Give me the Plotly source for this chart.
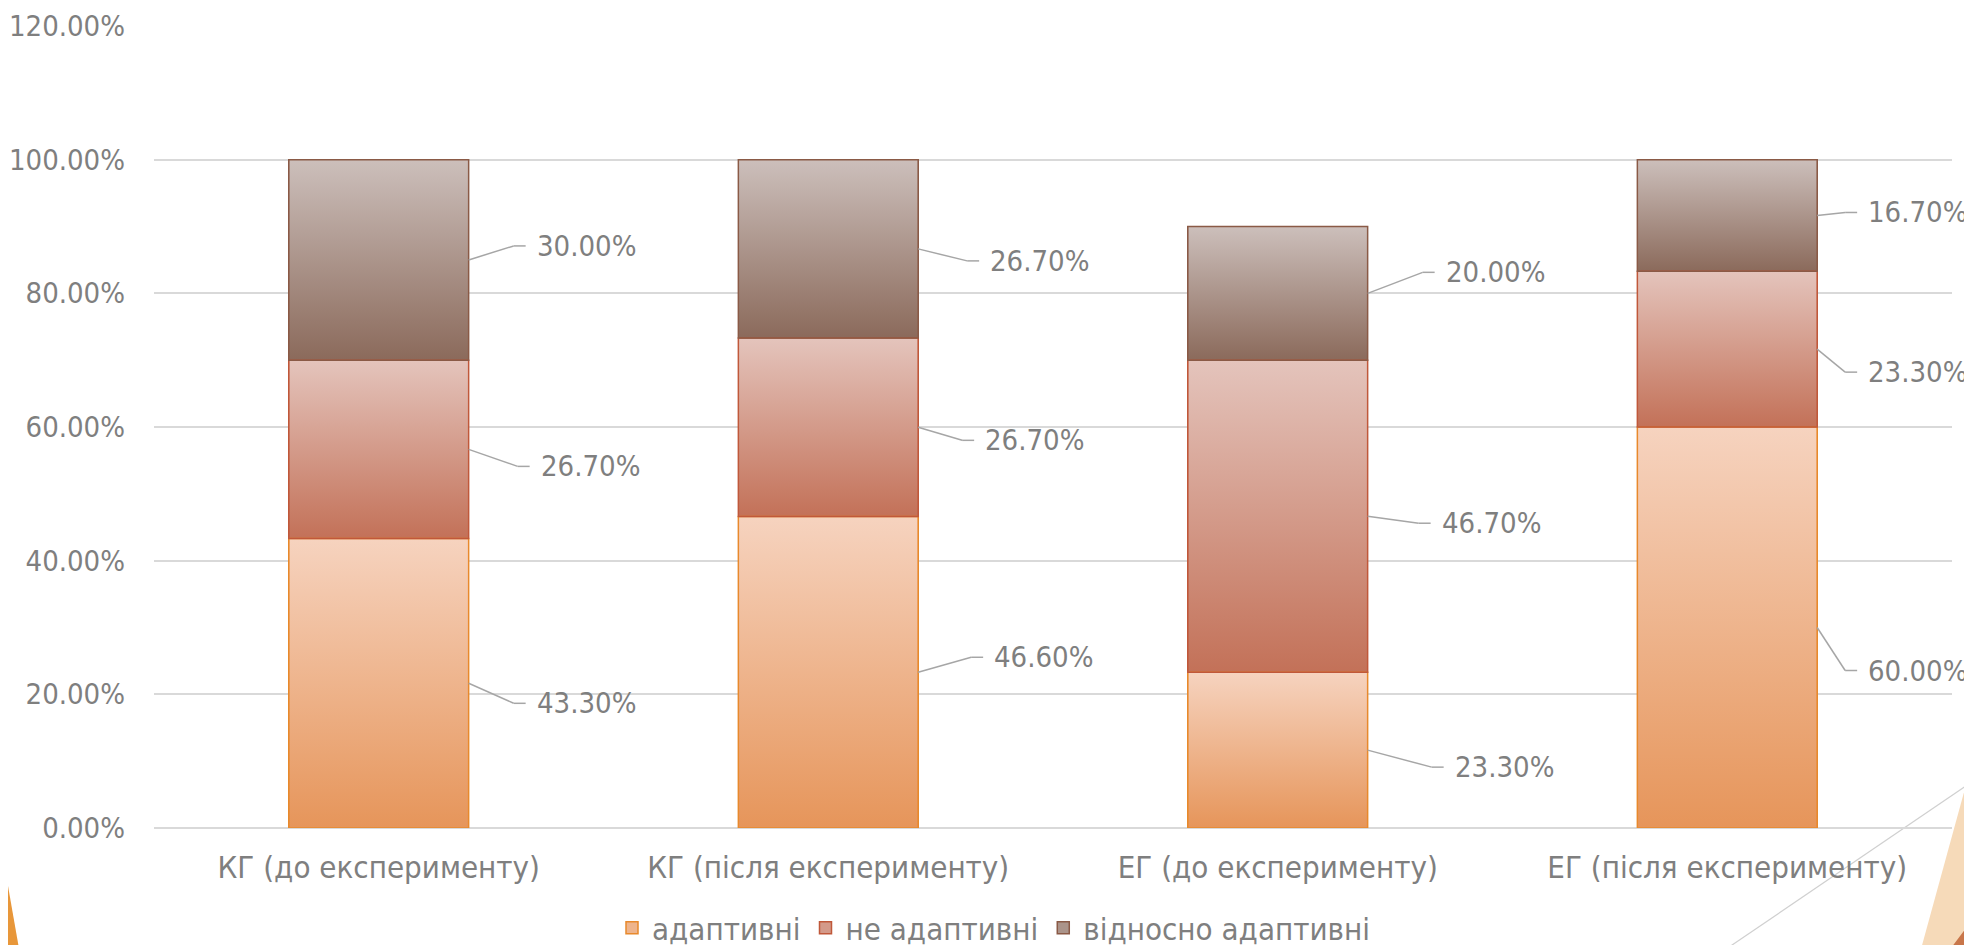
import base64
import plotly.graph_objects as go

# ---------------- data ----------------
categories = ["КГ (до експерименту)", "КГ (після експерименту)",
              "ЕГ (до експерименту)", "ЕГ (після експерименту)"]
series_names = ["адаптивні", "не адаптивні", "відносно адаптивні"]
adaptive = [0.433, 0.466, 0.233, 0.600]
non_adaptive = [0.267, 0.267, 0.467, 0.233]
relatively_adaptive = [0.300, 0.267, 0.200, 0.167]
y_tick_values = [0.0, 0.2, 0.4, 0.6, 0.8, 1.0, 1.2]
y_tick_labels = ["0.00%", "20.00%", "40.00%", "60.00%", "80.00%", "100.00%", "120.00%"]

series_values = [adaptive, non_adaptive, relatively_adaptive]

# ---------------- style ----------------
W, H = 1972, 945
PAGE_OFF = 8                       # default page body margin
# plot area wanted on the page: x 154..1952, y 26..828
ML = 154 - PAGE_OFF
MT = 26 - PAGE_OFF
MR = W - (1952 - PAGE_OFF)
MB = H - (828 - PAGE_OFF)
PW, PH = W - ML - MR, H - MT - MB
Y_MAX = 1.2
XPX = PW / len(categories)      # px per category unit
YPX = PH / Y_MAX                # px per data unit
BAR_W = 0.4

FONT = "DejaVu Sans Condensed, Liberation Sans Narrow, sans-serif"
NUM_SIZE = 29
TXT_SIZE = 31
TEXT_COLOR = "#7f7f7f"
GRID_COLOR = "#d9d9d9"
LEADER_COLOR = "#a6a6a6"

grad_top = ["#f6d3bf", "#e4c4bc", "#ccbfbb"]
grad_bottom = ["#e6955a", "#c37158", "#8b6a5b"]
solid_fill = ["#eeb48c", "#d49a8a", "#ab948a"]
outline = ["#e8892c", "#c0583a", "#8a5a46"]

# label placement: (text-left offset from bar edge px, text-centre offset from segment middle px, down +)
label_offsets = [
    [(66, 20), (74, -15), (85, 17), (49, 43)],     # адаптивні
    [(70, 17), (65, 13), (72, 7), (49, 23)],       # не адаптивні
    [(66, -14), (70, 12), (76, -21), (49, -3)],    # відносно адаптивні
]


def gradient_uri(top, bottom):
    svg = (
        '<svg xmlns="http://www.w3.org/2000/svg" width="10" height="100" '
        'viewBox="0 0 10 100" preserveAspectRatio="none">'
        '<defs><linearGradient id="g" x1="0" y1="0" x2="0" y2="1">'
        f'<stop offset="0" stop-color="{top}"/><stop offset="1" stop-color="{bottom}"/>'
        '</linearGradient></defs><rect x="0" y="0" width="10" height="100" fill="url(#g)"/></svg>'
    )
    return "data:image/svg+xml;base64," + base64.b64encode(svg.encode()).decode()


fig = go.Figure()
for s, (name, vals) in enumerate(zip(series_names, series_values)):
    fig.add_trace(go.Bar(
        name=name, x=categories, y=vals, width=BAR_W,
        marker=dict(color=solid_fill[s], line=dict(color=outline[s], width=1.5)),
        hoverinfo="skip",
    ))

images, shapes, annotations = [], [], []
for i in range(len(categories)):
    base = 0.0
    for s, vals in enumerate(series_values):
        v = vals[i]
        # gradient fill over the bar segment
        images.append(dict(
            source=gradient_uri(grad_top[s], grad_bottom[s]),
            xref="x", yref="y", x=i - BAR_W / 2, y=base + v,
            sizex=BAR_W, sizey=v, sizing="stretch",
            xanchor="left", yanchor="top", layer="above",
        ))
        # segment outline
        shapes.append(dict(
            type="rect", xref="x", yref="y", x0=i - BAR_W / 2, x1=i + BAR_W / 2,
            y0=base, y1=base + v, line=dict(color=outline[s], width=1.5),
            fillcolor="rgba(0,0,0,0)", layer="above",
        ))
        # leader line + label
        mid = base + v / 2
        edge = i + BAR_W / 2
        dx, dy = label_offsets[s][i]
        tx = edge + dx / XPX
        ty = mid - dy / YPX
        ex = tx - 21 / XPX
        hx = tx - 9 / XPX
        shapes.append(dict(type="line", xref="x", yref="y", x0=edge, y0=mid, x1=ex, y1=ty,
                           line=dict(color=LEADER_COLOR, width=1.5), layer="above"))
        shapes.append(dict(type="line", xref="x", yref="y", x0=ex, y0=ty, x1=hx, y1=ty,
                           line=dict(color=LEADER_COLOR, width=1.5), layer="above"))
        annotations.append(dict(
            x=tx, y=ty, xref="x", yref="y", xanchor="left", yanchor="middle",
            text=f"{v:.2%}", showarrow=False,
            font=dict(family=FONT, size=NUM_SIZE, color=TEXT_COLOR),
        ))
        base += v


def px2paper(px, py):
    # page pixel -> paper coordinates
    fx, fy = px - PAGE_OFF, py - PAGE_OFF
    return (fx - ML) / PW, (H - MB - fy) / PH


def poly(points):
    pts = [px2paper(*p) for p in points]
    return "M " + " L ".join(f"{x:.5f},{y:.5f}" for x, y in pts) + " Z"


# slide decorations in corners (page pixel positions)
shapes.append(dict(type="path", xref="paper", yref="paper",
                   path=poly([(-5, 812), (21, 960), (-5, 960)]),
                   fillcolor="#e8973a", line=dict(width=0), layer="below"))
shapes.append(dict(type="path", xref="paper", yref="paper",
                   path=poly([(1980, 734), (1918, 960), (1990, 960), (1990, 734)]),
                   fillcolor="#f6dab9", line=dict(width=0), layer="below"))
shapes.append(dict(type="path", xref="paper", yref="paper",
                   path=poly([(1942, 960), (1985, 903), (1990, 903), (1990, 960)]),
                   fillcolor="#c8764a", line=dict(width=0), layer="below"))
x0p, y0p = px2paper(1710, 960)
x1p, y1p = px2paper(1985, 773)
shapes.append(dict(type="line", xref="paper", yref="paper", x0=x0p, y0=y0p, x1=x1p, y1=y1p,
                   line=dict(color="#d0d0d0", width=1.2), layer="below"))

fig.update_layout(
    barmode="stack",
    width=W, height=H,
    margin=dict(l=ML, r=MR, t=MT, b=MB, autoexpand=False),
    paper_bgcolor="white", plot_bgcolor="white",
    font=dict(family=FONT, size=TXT_SIZE, color=TEXT_COLOR),
    images=images, shapes=shapes, annotations=annotations,
    showlegend=True,
    legend=dict(orientation="h", xref="container", yref="container",
                x=0.5, xanchor="center", y=1 - (928 - PAGE_OFF) / H, yanchor="middle",
                font=dict(family=FONT, size=TXT_SIZE, color=TEXT_COLOR),
                traceorder="normal", itemclick=False, bgcolor="rgba(0,0,0,0)"),
    xaxis=dict(type="category", range=[-0.5, len(categories) - 0.5],
               showline=False, ticks="", showgrid=False, automargin=False,
               tickfont=dict(family=FONT, size=TXT_SIZE, color=TEXT_COLOR),
               ticklabelstandoff=18),
    yaxis=dict(range=[0, Y_MAX], tickvals=y_tick_values, ticktext=y_tick_labels,
               showgrid=True, gridcolor=GRID_COLOR, gridwidth=1.5,
               zeroline=True, zerolinecolor=GRID_COLOR, zerolinewidth=1.5,
               showline=False, ticks="", automargin=False,
               tickfont=dict(family=FONT, size=NUM_SIZE, color=TEXT_COLOR),
               ticklabelstandoff=28),
)

fig.write_html("out.html")
